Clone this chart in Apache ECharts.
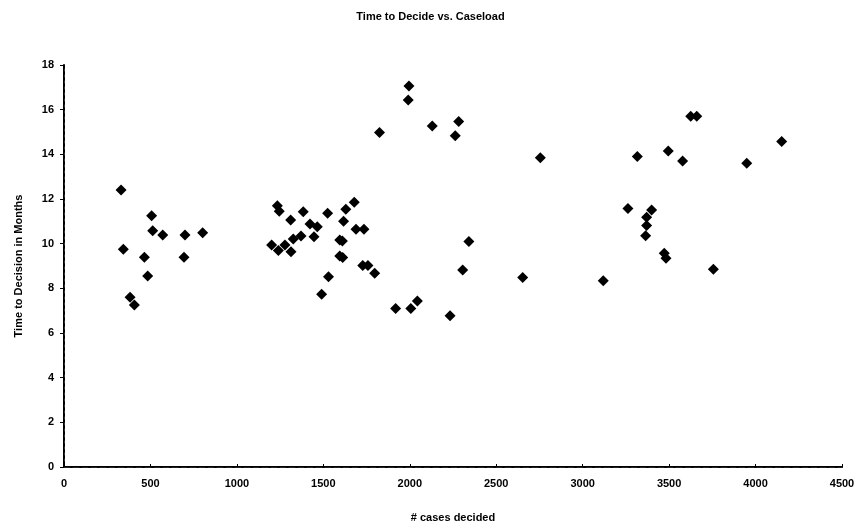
<!DOCTYPE html>
<html lang="en">
<head>
    <meta charset="UTF-8">
    <title>Time to Decide vs. Caseload</title>
    <script src="https://cdn.jsdelivr.net/npm/echarts@6.0.0/dist/echarts.min.js"></script>
    <style>
        html, body {
            margin: 0;
            border: 0;
            background: #fff;
        }

        #chart {
            width: 861px;
            height: 525px;
        }
    </style>
</head>
<body>
<div id="chart"></div>
<script type="text/javascript">
    // [# cases decided, months to decision]
    const leftGroup = [
        [330, 12.4], [507, 11.25], [513, 10.58], [571, 10.39], [700, 10.39], [802, 10.49],
        [343, 9.75], [465, 9.39], [694, 9.39], [484, 8.55], [382, 7.6], [407, 7.25]
    ];
    const middleGroup = [
        [1234, 11.7], [1245, 11.45], [1311, 11.06], [1384, 11.43], [1525, 11.36], [1630, 11.54],
        [1679, 11.85], [1617, 11.0], [1423, 10.88], [1465, 10.76], [1446, 10.31], [1689, 10.64],
        [1735, 10.64], [1326, 10.21], [1371, 10.34], [1201, 9.94], [1240, 9.69], [1278, 9.94],
        [1313, 9.64], [1595, 10.16], [1610, 10.12], [1595, 9.45], [1612, 9.38], [1728, 9.02],
        [1758, 9.02], [1797, 8.68], [1530, 8.52], [1490, 7.73]
    ];
    const rightGroup = [
        [1918, 7.1], [2006, 7.1], [2044, 7.43], [2233, 6.77], [1825, 14.98], [1995, 17.06],
        [1991, 16.43], [2130, 15.27], [2283, 15.47], [2263, 14.83], [2755, 13.85], [2342, 10.1],
        [2306, 8.82], [2653, 8.48], [3119, 8.34], [3262, 11.57], [3316, 13.9], [3495, 14.15],
        [3578, 13.7], [3399, 11.51], [3370, 11.18], [3370, 10.81], [3364, 10.36], [3472, 9.57],
        [3482, 9.35], [3625, 15.7], [3660, 15.7], [4151, 14.57], [3949, 13.6], [3756, 8.85]
    ];
    const points = leftGroup.concat(middleGroup, rightGroup);

    const font = 'Liberation Sans, Arial, sans-serif';

    window.onload = () => {
        const chart = echarts.init(document.querySelector('#chart'), null, {renderer: 'canvas'});
        const option = {
            backgroundColor: '#fff',
            animation: false,
            title: {
                text: 'Time to Decide vs. Caseload',
                left: 'center',
                top: 6,
                textStyle: {fontFamily: font, fontSize: 11, fontWeight: 'bold', color: '#000'}
            },
            grid: {left: 64, right: 19, top: 65, bottom: 58, outerBoundsMode: 'none', containLabel: false},
            xAxis: [{
                type: 'value',
                min: 0,
                max: 4500,
                interval: 500,
                name: '# cases decided',
                nameLocation: 'middle',
                nameGap: 45,
                nameTextStyle: {fontFamily: font, fontSize: 11, fontWeight: 'bold', color: '#000'},
                axisLine: {lineStyle: {color: '#000', width: 2}},
                axisTick: {show: true, inside: true, length: 3, lineStyle: {color: '#000'}},
                axisLabel: {
                    fontFamily: font, fontSize: 11, fontWeight: 'bold', color: '#000', margin: 11,
                    formatter: v => String(v)
                },
                splitLine: {show: false}
            }, {
                type: 'value',
                position: 'top',
                min: 0,
                max: 4500,
                axisLine: {show: true, lineStyle: {color: '#222', width: 1, type: [6, 3]}},
                axisTick: {show: false},
                axisLabel: {show: false},
                splitLine: {show: false}
            }],
            yAxis: [{
                type: 'value',
                min: 0,
                max: 18,
                interval: 2,
                name: 'Time to Decision in Months',
                nameLocation: 'middle',
                nameGap: 40,
                nameTextStyle: {fontFamily: font, fontSize: 11, fontWeight: 'bold', color: '#000'},
                axisLine: {show: true, lineStyle: {color: '#000', width: 2}},
                axisTick: {show: true, length: 4, lineStyle: {color: '#000'}},
                axisLabel: {fontFamily: font, fontSize: 11, fontWeight: 'bold', color: '#000', margin: 10},
                splitLine: {show: false}
            }, {
                type: 'value',
                position: 'right',
                min: 0,
                max: 18,
                axisLine: {show: true, lineStyle: {color: '#333', width: 1, type: [2, 4]}},
                axisTick: {show: false},
                axisLabel: {show: false},
                splitLine: {show: false}
            }],
            series: [{
                type: 'scatter',
                data: points,
                symbol: 'diamond',
                symbolSize: 11,
                itemStyle: {color: '#000', opacity: 1}
            }]
        };
        chart.setOption(option, true);
    };
</script>
</body>
</html>
